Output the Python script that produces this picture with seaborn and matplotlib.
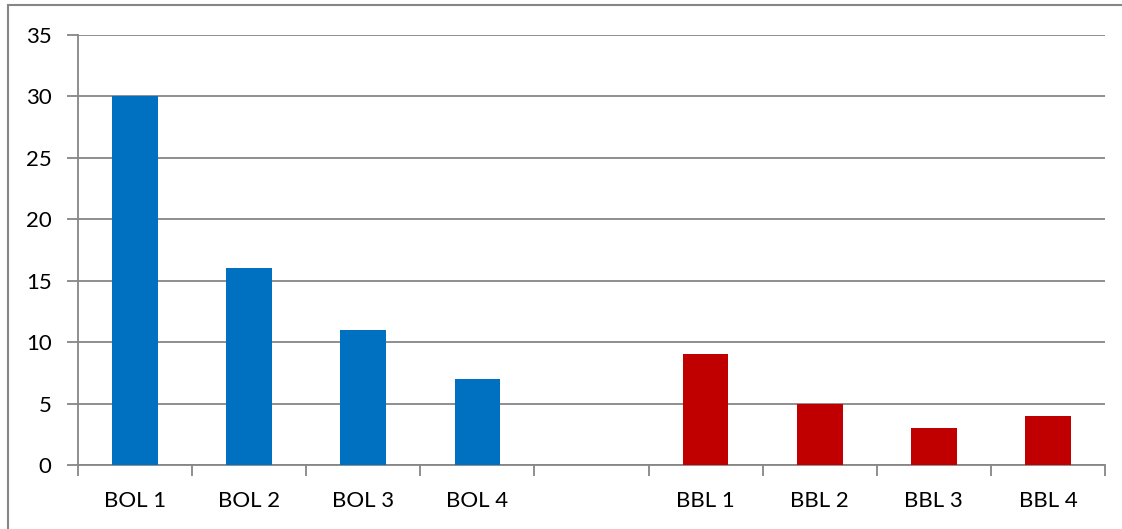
import matplotlib
matplotlib.use("Agg")
import matplotlib.pyplot as plt
from matplotlib.patches import Rectangle
import numpy as np
import pandas as pd
import seaborn as sns

# Category labels (blank slot separates the two groups)
categories = ["BOL 1", "BOL 2", "BOL 3", "BOL 4", " ", "BBL 1", "BBL 2", "BBL 3", "BBL 4"]
bol_labels = ["BOL 1", "BOL 2", "BOL 3", "BOL 4"]
bol_values = [30, 16, 11, 7]
bbl_labels = ["BBL 1", "BBL 2", "BBL 3", "BBL 4"]
bbl_values = [9, 5, 3, 4]
y_ticks = [0, 5, 10, 15, 20, 25, 30, 35]

df = pd.DataFrame({
    "label": bol_labels + bbl_labels,
    "value": bol_values + bbl_values,
    "group": ["BOL"] * 4 + ["BBL"] * 4,
})

sns.set_theme(style="white")
plt.rcParams["font.family"] = ["Lato", "DejaVu Sans"]

W, H = 1122, 529
fig = plt.figure(figsize=(W / 100, H / 100), dpi=100)
ax = fig.add_axes([78 / W, (H - 465) / H, (1105 - 78) / W, (465 - 35) / H])

sns.barplot(data=df, x="label", y="value", hue="group", order=categories,
            palette={"BOL": "#0070C0", "BBL": "#C00000"}, dodge=False,
            width=0.4, legend=False, ax=ax, saturation=1, zorder=3,
            linewidth=0, edgecolor="none")

grid_c = "#868686"
ax.set_ylim(0, 35)
ax.set_xlim(-0.5, len(categories) - 0.5)
ax.set_yticks(y_ticks)
ax.yaxis.grid(True, color=grid_c, linewidth=1.3, zorder=0)
ax.set_axisbelow(True)
ax.set_xlabel("")
ax.set_ylabel("")

for s in ["top", "right"]:
    ax.spines[s].set_visible(False)
for s in ["left", "bottom"]:
    ax.spines[s].set_color(grid_c)
    ax.spines[s].set_linewidth(1.3)

ax.set_xticks(range(len(categories)))
ax.set_xticklabels(categories)
ax.set_xticks(np.arange(-0.5, len(categories), 1.0), minor=True)
ax.tick_params(axis="x", which="major", length=0, pad=19, labelsize=16, colors="black")
ax.tick_params(axis="x", which="minor", length=8, width=1.3, color=grid_c, direction="out", bottom=True)
ax.tick_params(axis="y", length=8, width=1.3, color=grid_c, direction="out", left=True,
               pad=11, labelsize=16, labelcolor="black")

fig.patches.append(Rectangle((8 / W, -0.1), 1.2, (H - 5) / H + 0.1,
                             transform=fig.transFigure, fill=False,
                             edgecolor=grid_c, linewidth=1.5))

fig.savefig("out.png", dpi=100, facecolor="white")
